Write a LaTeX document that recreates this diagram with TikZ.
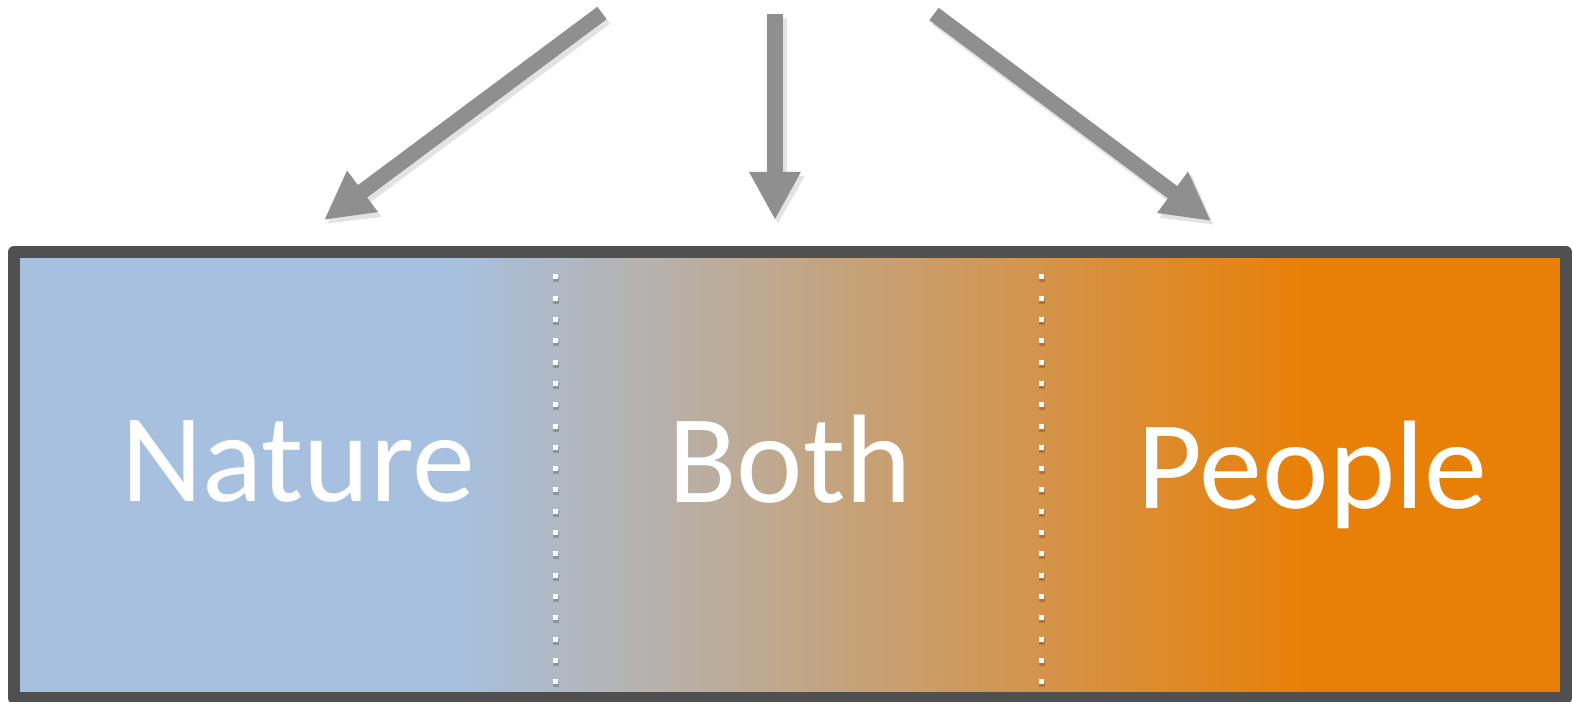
\documentclass[tikz,border=0pt]{standalone}
\usepackage{fontspec}
\setmainfont{Carlito}
\usetikzlibrary{arrows.meta}
\definecolor{natureblue}{HTML}{A7C0DF}
\definecolor{peopleorange}{HTML}{E88008}
\definecolor{framegray}{HTML}{505050}
\definecolor{arrowgray}{HTML}{8F8F8F}

\begin{document}
\begin{tikzpicture}[x=0.5pt,y=0.5pt,
    bigarrow/.style={draw=arrowgray, line width=7.75pt, -{Triangle[width=24pt,length=24pt]}},
    arrowshadow/.style={draw=black!11, line width=8.5pt, -{Triangle[width=25pt,length=24pt]}},
    divider/.style={draw=white, line width=2.5pt, dash pattern=on 2.5pt off 8.15pt},
    dividershadow/.style={draw=black, opacity=0.2, line width=2.8pt, dash pattern=on 2.8pt off 7.85pt},
    bandtext/.style={text=white, anchor=base, inner sep=0pt, font=\fontsize{63}{72}\selectfont}]
    \useasboundingbox (0,0) rectangle (1573,701);

    % band
    \coordinate (band-sw) at (14,3);
    \coordinate (band-ne) at (1566,449);
    \fill[natureblue] (band-sw) rectangle (band-ne);
    \shade[left color=natureblue, right color=peopleorange] (455,3) rectangle (1300,449);
    \fill[peopleorange] (1300,3) rectangle (band-ne);

    % dotted separators
    \coordinate (divL-top) at (555,426.5);
    \coordinate (divL-bot) at (555,16.5);
    \coordinate (divR-top) at (1041,426.5);
    \coordinate (divR-bot) at (1041,16.5);
    \foreach \t/\b in {divL-top/divL-bot, divR-top/divR-bot} {
        \draw[dividershadow, transform canvas={shift={(0.6pt,-1.2pt)}}] (\t) -- (\b);
        \draw[divider] (\t) -- (\b);
    }

    \node[bandtext] (nature) at (298,199) {Nature};
    \node[bandtext] (both)   at (790,198) {Both};
    \node[bandtext] (people) at (1312,192) {People};

    \draw[framegray, line width=6pt, line join=round] (band-sw) rectangle (band-ne);

    % arrows
    \coordinate (srcL) at (602,688);
    \coordinate (tipL) at (324,481);
    \coordinate (srcM) at (775,687);
    \coordinate (tipM) at (775,481);
    \coordinate (srcR) at (934,687);
    \coordinate (tipR) at (1211,480);
    \foreach \s/\t in {srcL/tipL, srcM/tipM, srcR/tipR} {
        \draw[arrowshadow, transform canvas={shift={(1.5pt,-2pt)}}] (\s) -- (\t);
        \draw[bigarrow] (\s) -- (\t);
    }
\end{tikzpicture}
\end{document}
